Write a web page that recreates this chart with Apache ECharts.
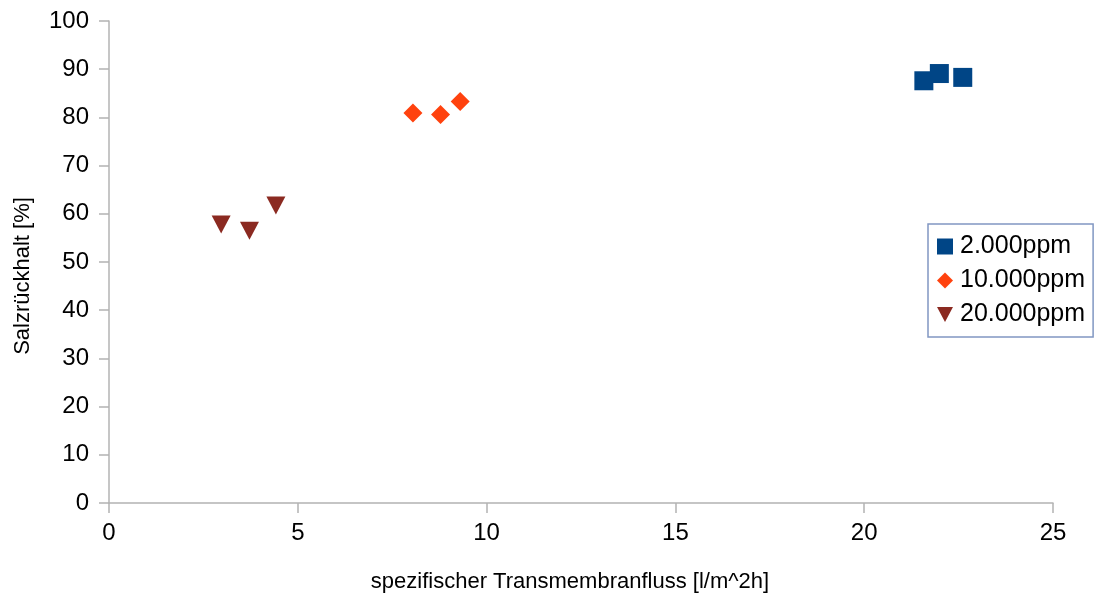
<!DOCTYPE html>
<html>
<head>
<meta charset="utf-8">
<script src="https://cdn.jsdelivr.net/npm/echarts@6/dist/echarts.min.js"></script>
<style>
  html, body { margin: 0; padding: 0; background: #fff; }
  #chart { width: 1096px; height: 599px; }
</style>
</head>
<body>
<div id="chart"></div>
<script>
// Salt rejection vs. specific transmembrane flux for three feed concentrations
const seriesNames = ['2.000ppm', '10.000ppm', '20.000ppm'];
const flux2000 = [21.58, 21.99, 22.61];
const rejection2000 = [87.6, 89.1, 88.3];
const flux10000 = [8.05, 8.78, 9.30];
const rejection10000 = [80.9, 80.6, 83.3];
const flux20000 = [2.97, 3.72, 4.42];
const rejection20000 = [57.8, 56.5, 61.7];
const xTicks = { min: 0, max: 25, interval: 5 };
const yTicks = { min: 0, max: 100, interval: 10 };

const pairs = (xs, ys) => xs.map((x, i) => [x, ys[i]]);

const FONT = 'Liberation Sans';
const axisGrey = '#b3b3b3';
const downTriangle = 'path://M0,0L20,0L10,19Z';

const chart = echarts.init(document.getElementById('chart'), null, { renderer: 'canvas' });
chart.setOption({
  animation: false,
  backgroundColor: '#ffffff',
  textStyle: { fontFamily: FONT },
  grid: { left: 109, right: 43, top: 21, bottom: 96, containLabel: false, outerBoundsMode: 'none' },
  xAxis: {
    type: 'value',
    min: xTicks.min, max: xTicks.max, interval: xTicks.interval,
    name: 'spezifischer Transmembranfluss [l/m^2h]',
    nameLocation: 'middle',
    nameGap: 68,
    nameTextStyle: { fontFamily: FONT, fontSize: 22, color: '#000', padding: [0, 22, 0, 0] },
    axisLine: { show: true, onZero: false, lineStyle: { color: axisGrey, width: 1.5 } },
    axisTick: { show: true, inside: false, length: 10, lineStyle: { color: axisGrey, width: 1.5 } },
    axisLabel: { fontFamily: FONT, fontSize: 24, color: '#000', margin: 18 },
    splitLine: { show: false }
  },
  yAxis: {
    type: 'value',
    min: yTicks.min, max: yTicks.max, interval: yTicks.interval,
    name: 'Salzrückhalt [%]',
    nameLocation: 'middle',
    nameGap: 75,
    nameRotate: 90,
    nameTextStyle: { fontFamily: FONT, fontSize: 22, color: '#000', padding: [0, 28, 0, 0] },
    axisLine: { show: true, onZero: false, lineStyle: { color: axisGrey, width: 1.5 } },
    axisTick: { show: true, inside: false, length: 10, lineStyle: { color: axisGrey, width: 1.5 } },
    axisLabel: { fontFamily: FONT, fontSize: 24, color: '#000', margin: 20 },
    splitLine: { show: false }
  },
  legend: {
    orient: 'vertical',
    left: 928,
    top: 224,
    padding: [10, 8, 10, 9],
    itemGap: 9,
    itemWidth: 16,
    itemHeight: 16,
    borderColor: '#8197c2',
    borderWidth: 1.5,
    borderRadius: 0,
    textStyle: { fontFamily: FONT, fontSize: 25, color: '#000', padding: [0, 0, 0, 2] },
    data: [
      { name: seriesNames[0], icon: 'rect' },
      { name: seriesNames[1], icon: 'diamond' },
      { name: seriesNames[2], icon: downTriangle }
    ]
  },
  series: [
    {
      name: seriesNames[0], type: 'scatter',
      symbol: 'rect', symbolSize: 19,
      itemStyle: { color: '#004586', opacity: 1 },
      data: pairs(flux2000, rejection2000)
    },
    {
      name: seriesNames[1], type: 'scatter',
      symbol: 'diamond', symbolSize: 19,
      itemStyle: { color: '#ff420e', opacity: 1 },
      data: pairs(flux10000, rejection10000)
    },
    {
      name: seriesNames[2], type: 'scatter',
      symbol: downTriangle, symbolSize: [19, 18],
      itemStyle: { color: '#8b2a21', opacity: 1 },
      data: pairs(flux20000, rejection20000)
    }
  ]
});
</script>
</body>
</html>
